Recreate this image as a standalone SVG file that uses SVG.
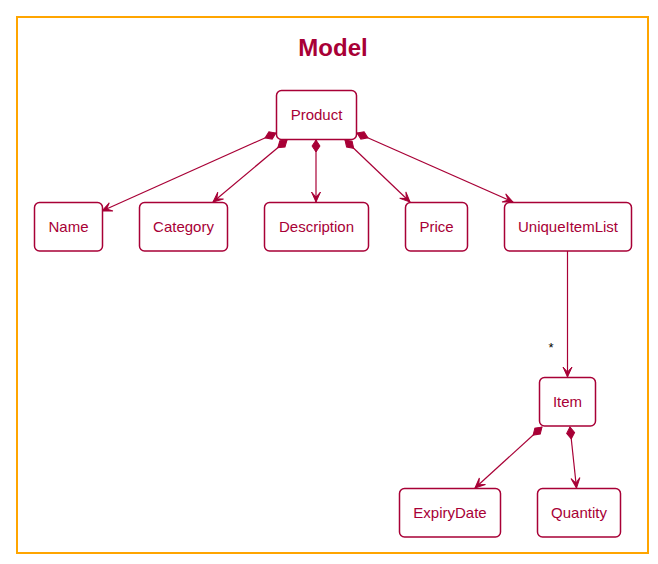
<svg xmlns="http://www.w3.org/2000/svg" width="658" height="564" viewBox="0 0 658 564">
<style>
.box{fill:#FFFFFF;stroke:#A80036;stroke-width:1.5}
.lbl{font-family:"Liberation Sans",Arial,sans-serif;font-size:15px;fill:#A80036;text-anchor:middle}
.edge{fill:none;stroke:#A80036;stroke-width:1.2}
</style>
<defs>
<marker id="dia" markerUnits="userSpaceOnUse" markerWidth="20" markerHeight="20" refX="0" refY="0" orient="auto" overflow="visible">
<path d="M0,0 L6,-4 L12,0 L6,4 Z" fill="#A80036" stroke="#A80036" stroke-width="1"/>
</marker>
<marker id="arr" markerUnits="userSpaceOnUse" markerWidth="20" markerHeight="20" refX="0" refY="0" orient="auto" overflow="visible">
<path d="M0,0 L-10,-4.5 L-5,0 L-10,4.5 Z" fill="#A80036" stroke="#A80036" stroke-width="1"/>
</marker>
</defs>
<rect x="17" y="17" width="631" height="536" fill="#FFFFFF" stroke="#FFA500" stroke-width="2"/>
<text x="333" y="56" font-family="Liberation Sans,Arial,sans-serif" font-size="24" font-weight="bold" fill="#A80036" text-anchor="middle">Model</text>
<g id="connectors">
<line class="edge" x1="276" y1="133" x2="102" y2="211" marker-start="url(#dia)" marker-end="url(#arr)"/>
<line class="edge" x1="287" y1="140" x2="213" y2="202" marker-start="url(#dia)" marker-end="url(#arr)"/>
<line class="edge" x1="316" y1="140" x2="316" y2="202" marker-start="url(#dia)" marker-end="url(#arr)"/>
<line class="edge" x1="345" y1="140" x2="410" y2="202" marker-start="url(#dia)" marker-end="url(#arr)"/>
<line class="edge" x1="357" y1="133" x2="513" y2="202" marker-start="url(#dia)" marker-end="url(#arr)"/>
<line class="edge" x1="567.5" y1="251" x2="567.5" y2="377" marker-end="url(#arr)"/>
<text x="551" y="352" font-family="Liberation Sans,Arial,sans-serif" font-size="13" fill="#000000" text-anchor="middle">*</text>
<line class="edge" x1="542" y1="427" x2="475" y2="488" marker-start="url(#dia)" marker-end="url(#arr)"/>
<line class="edge" x1="570" y1="427" x2="576.5" y2="488" marker-start="url(#dia)" marker-end="url(#arr)"/>
</g>
<g id="Product"><rect class="box" x="276.5" y="90.5" width="80" height="49" rx="5"/><text class="lbl" x="316.5" y="120">Product</text></g>
<g id="Name"><rect class="box" x="34.5" y="202.5" width="68" height="48.5" rx="5"/><text class="lbl" x="68.5" y="232">Name</text></g>
<g id="Category"><rect class="box" x="139.5" y="202.5" width="88" height="48.5" rx="5"/><text class="lbl" x="183.5" y="232">Category</text></g>
<g id="Description"><rect class="box" x="264.5" y="202.5" width="104" height="48.5" rx="5"/><text class="lbl" x="316.5" y="232">Description</text></g>
<g id="Price"><rect class="box" x="405.5" y="202.5" width="62" height="48.5" rx="5"/><text class="lbl" x="436.5" y="232">Price</text></g>
<g id="UniqueItemList"><rect class="box" x="504.5" y="202.5" width="127" height="48.5" rx="5"/><text class="lbl" x="568" y="232">UniqueItemList</text></g>
<g id="Item"><rect class="box" x="539.5" y="377.5" width="56" height="48.5" rx="5"/><text class="lbl" x="567.5" y="407">Item</text></g>
<g id="ExpiryDate"><rect class="box" x="399.5" y="488.5" width="101" height="48.5" rx="5"/><text class="lbl" x="450" y="518">ExpiryDate</text></g>
<g id="Quantity"><rect class="box" x="537.5" y="488.5" width="83" height="48.5" rx="5"/><text class="lbl" x="579" y="518">Quantity</text></g>
</svg>
